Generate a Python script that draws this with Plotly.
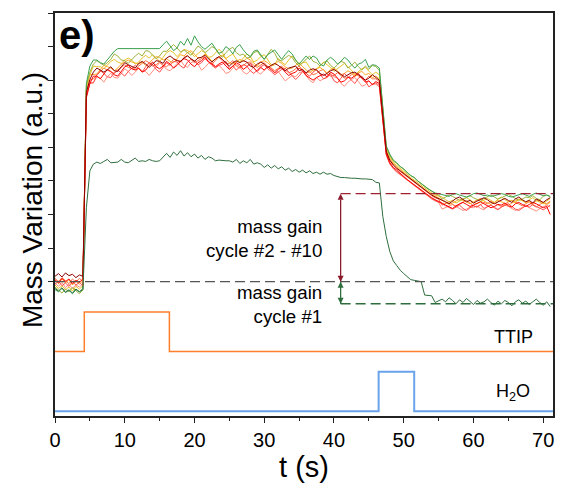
import plotly.graph_objects as go

# time grid (s), 0.5 s sampling
t = [0.5 * i for i in range(143)]

# ---- cycles #2 - #10 (mass variation, a.u.) ----
cycle2 = [  # green
    -0.12, -0.15, -0.10, -0.16, -0.13, -0.18, -0.12, -0.15, -0.10,
    2.95, 3.21, 3.30, 3.30, 3.26, 3.24, 3.30, 3.37, 3.43, 3.47,
    3.47, 3.47, 3.47, 3.47, 3.47, 3.47, 3.47, 3.47, 3.47, 3.47,
    3.47, 3.47, 3.53, 3.58, 3.51, 3.44, 3.48, 3.58, 3.52, 3.62,
    3.52, 3.66, 3.57, 3.50, 3.46, 3.51, 3.55, 3.47, 3.40, 3.42,
    3.50, 3.46, 3.39, 3.49, 3.53, 3.45, 3.39, 3.35, 3.43, 3.45,
    3.38, 3.31, 3.38, 3.41, 3.45, 3.38, 3.31, 3.38, 3.44, 3.39,
    3.30, 3.24, 3.30, 3.36, 3.31, 3.36, 3.33, 3.24, 3.21, 3.30,
    3.34, 3.30, 3.24, 3.28, 3.34, 3.30, 3.23, 3.18, 3.24, 3.26,
    3.31, 3.19, 3.23,
    3.22, 3.18, 2.62, 2.02, 1.90, 1.81, 1.77, 1.71, 1.68, 1.62,
    1.58, 1.55, 1.50, 1.46, 1.41, 1.38, 1.35, 1.32, 1.31,
    1.30, 1.28, 1.27, 1.30, 1.31, 1.29, 1.28, 1.26, 1.28, 1.31,
    1.32, 1.30, 1.28, 1.29, 1.27, 1.28, 1.30, 1.31, 1.30, 1.27,
    1.26, 1.28, 1.30, 1.31, 1.29, 1.27, 1.30, 1.32, 1.30, 1.28,
    1.29, 1.27,
]
cycle3 = [  # olive
    -0.08, -0.13, -0.17, -0.11, -0.15, -0.09, -0.14, -0.18, -0.12,
    2.93, 3.12, 3.24, 3.29, 3.25, 3.22, 3.26, 3.31, 3.39, 3.36,
    3.30, 3.29, 3.25, 3.31, 3.36, 3.40, 3.36, 3.44, 3.43, 3.37,
    3.32, 3.36, 3.43, 3.43, 3.48, 3.53, 3.48, 3.42, 3.45, 3.41,
    3.37, 3.44, 3.51, 3.47, 3.41, 3.45, 3.50, 3.47, 3.39, 3.34,
    3.41, 3.46, 3.49, 3.41, 3.37, 3.39, 3.33, 3.34, 3.41, 3.43,
    3.36, 3.31, 3.38, 3.46, 3.40, 3.30, 3.29, 3.33, 3.37, 3.34,
    3.26, 3.21, 3.26, 3.31, 3.36, 3.28, 3.26, 3.21, 3.26, 3.29,
    3.22, 3.18, 3.23, 3.28, 3.26, 3.18, 3.22, 3.27, 3.20, 3.15,
    3.21, 3.16, 3.22,
    3.20, 3.15, 2.60, 2.00, 1.88, 1.80, 1.76, 1.72, 1.67, 1.63,
    1.58, 1.55, 1.50, 1.46, 1.42, 1.38, 1.35, 1.31, 1.29,
    1.23, 1.26, 1.29, 1.27, 1.24, 1.21, 1.23, 1.26, 1.28, 1.25,
    1.22, 1.20, 1.24, 1.27, 1.29, 1.26, 1.23, 1.25, 1.28, 1.30,
    1.27, 1.24, 1.21, 1.23, 1.26, 1.25, 1.28, 1.24, 1.22, 1.27,
    1.29, 1.26,
]
cycle4 = [  # gold
    -0.05, -0.10, -0.06, -0.12, -0.08, -0.14, -0.07, -0.11, -0.06,
    2.90, 3.08, 3.21, 3.20, 3.20, 3.17, 3.22, 3.28, 3.31, 3.27,
    3.25, 3.30, 3.33, 3.30, 3.24, 3.27, 3.33, 3.37, 3.33, 3.38,
    3.33, 3.28, 3.34, 3.41, 3.44, 3.41, 3.35, 3.41, 3.46, 3.44,
    3.41, 3.35, 3.40, 3.44, 3.41, 3.34, 3.35, 3.41, 3.46, 3.41,
    3.32, 3.36, 3.39, 3.31, 3.27, 3.33, 3.39, 3.35, 3.27, 3.30,
    3.35, 3.38, 3.30, 3.23, 3.24, 3.32, 3.27, 3.23, 3.30, 3.36,
    3.30, 3.23, 3.26, 3.27, 3.19, 3.13, 3.17, 3.21, 3.27, 3.23,
    3.19, 3.13, 3.17, 3.20, 3.25, 3.20, 3.15, 3.08, 3.12, 3.17,
    3.19, 3.14, 3.08,
    3.12, 3.08, 2.55, 1.98, 1.86, 1.78, 1.73, 1.69, 1.64, 1.60,
    1.55, 1.51, 1.47, 1.43, 1.39, 1.36, 1.32, 1.29, 1.27,
    1.26, 1.22, 1.19, 1.21, 1.17, 1.20, 1.23, 1.25, 1.22, 1.18,
    1.16, 1.19, 1.22, 1.24, 1.21, 1.18, 1.23, 1.26, 1.22, 1.19,
    1.21, 1.17, 1.23, 1.20, 1.18, 1.22, 1.25, 1.21, 1.19, 1.16,
    1.20, 1.24,
]
cycle5 = [  # orange
    0.02, -0.03, 0.04, -0.02, 0.03, -0.05, 0.01, -0.04, 0.02,
    2.88, 3.08, 3.08, 3.09, 3.16, 3.22, 3.20, 3.18, 3.14, 3.18,
    3.24, 3.27, 3.30, 3.27, 3.25, 3.24, 3.27, 3.22, 3.25, 3.31,
    3.35, 3.34, 3.30, 3.32, 3.28, 3.26, 3.32, 3.38, 3.36, 3.41,
    3.44, 3.38, 3.33, 3.34, 3.39, 3.34, 3.28, 3.31, 3.35, 3.37,
    3.32, 3.26, 3.24, 3.28, 3.31, 3.28, 3.33, 3.30, 3.25, 3.21,
    3.27, 3.29, 3.26, 3.21, 3.23, 3.28, 3.25, 3.20, 3.17, 3.18,
    3.22, 3.26, 3.20, 3.15, 3.11, 3.15, 3.17, 3.19, 3.15, 3.11,
    3.16, 3.18, 3.14, 3.08, 3.10, 3.14, 3.11, 3.05, 3.11, 3.13,
    3.08, 3.10, 3.04,
    3.06, 3.02, 2.50, 1.95, 1.83, 1.76, 1.71, 1.67, 1.62, 1.58,
    1.53, 1.50, 1.45, 1.41, 1.37, 1.34, 1.30, 1.27, 1.25,
    1.21, 1.18, 1.15, 1.17, 1.20, 1.23, 1.21, 1.18, 1.16, 1.19,
    1.22, 1.24, 1.20, 1.17, 1.15, 1.18, 1.21, 1.19, 1.16, 1.14,
    1.17, 1.20, 1.23, 1.21, 1.18, 1.19, 1.16, 1.20, 1.22, 1.17,
    1.15, 1.18,
]
cycle6 = [  # orange-red
    0.05, 0.00, 0.06, 0.01, -0.03, 0.04, -0.01, 0.05, 0.00,
    2.84, 3.00, 3.02, 3.07, 3.13, 3.18, 3.15, 3.12, 3.10, 3.15,
    3.19, 3.23, 3.19, 3.17, 3.16, 3.21, 3.25, 3.29, 3.26, 3.21,
    3.23, 3.27, 3.22, 3.20, 3.25, 3.31, 3.30, 3.27, 3.34, 3.37,
    3.31, 3.26, 3.29, 3.32, 3.35, 3.28, 3.24, 3.29, 3.34, 3.29,
    3.24, 3.25, 3.29, 3.21, 3.18, 3.22, 3.26, 3.27, 3.22, 3.19,
    3.23, 3.26, 3.20, 3.18, 3.14, 3.17, 3.21, 3.15, 3.11, 3.13,
    3.17, 3.21, 3.15, 3.10, 3.13, 3.08, 3.10, 3.14, 3.16, 3.09,
    3.06, 3.07, 3.11, 3.07, 3.03, 3.04, 3.08, 3.10, 3.06, 3.03,
    3.00, 3.06, 3.02,
    3.02, 2.98, 2.45, 1.93, 1.80, 1.73, 1.68, 1.64, 1.59, 1.55,
    1.51, 1.47, 1.43, 1.39, 1.35, 1.32, 1.28, 1.25, 1.23,
    1.14, 1.17, 1.19, 1.15, 1.12, 1.16, 1.18, 1.21, 1.17, 1.13,
    1.11, 1.15, 1.18, 1.16, 1.20, 1.17, 1.14, 1.12, 1.15, 1.19,
    1.21, 1.18, 1.15, 1.13, 1.16, 1.19, 1.14, 1.11, 1.15, 1.18,
    1.16, 1.20,
]
cycle7 = [  # salmon
    -0.02, -0.07, -0.01, -0.09, -0.04, -0.10, -0.05, -0.08, -0.03,
    2.78, 2.95, 2.96, 3.05, 3.03, 2.97, 3.05, 3.10, 3.04, 3.03,
    3.10, 3.17, 3.13, 3.07, 3.12, 3.18, 3.14, 3.13, 3.07, 3.13,
    3.19, 3.26, 3.22, 3.16, 3.14, 3.19, 3.25, 3.30, 3.22, 3.19,
    3.26, 3.28, 3.24, 3.15, 3.19, 3.25, 3.27, 3.20, 3.22, 3.17,
    3.10, 3.12, 3.18, 3.24, 3.20, 3.12, 3.09, 3.14, 3.19, 3.12,
    3.09, 3.15, 3.21, 3.18, 3.11, 3.13, 3.06, 2.99, 3.03, 3.07,
    3.05, 3.11, 3.13, 3.07, 3.00, 2.96, 3.04, 2.99, 3.02, 3.05,
    3.10, 3.05, 3.03, 2.95, 2.91, 2.97, 3.01, 3.04, 2.98, 2.91,
    2.93, 2.99, 2.94,
    2.94, 2.90, 2.38, 1.88, 1.75, 1.68, 1.63, 1.59, 1.54, 1.50,
    1.46, 1.42, 1.38, 1.34, 1.30, 1.27, 1.23, 1.20, 1.18,
    1.08, 1.10, 1.13, 1.15, 1.12, 1.09, 1.06, 1.08, 1.11, 1.10,
    1.13, 1.09, 1.07, 1.12, 1.14, 1.11, 1.08, 1.11, 1.14, 1.12,
    1.09, 1.06, 1.08, 1.11, 1.13, 1.10, 1.07, 1.05, 1.09, 1.12,
    1.14, 1.11,
]
cycle8 = [  # light red
    -0.04, 0.01, -0.06, -0.02, -0.07, 0.00, -0.05, -0.01, -0.06,
    2.76, 2.96, 2.96, 3.08, 3.14, 3.10, 3.05, 3.04, 3.11, 3.15,
    3.11, 3.06, 3.13, 3.17, 3.22, 3.17, 3.12, 3.20, 3.26, 3.23,
    3.16, 3.12, 3.20, 3.26, 3.22, 3.28, 3.27, 3.21, 3.18, 3.27,
    3.31, 3.29, 3.23, 3.26, 3.32, 3.28, 3.22, 3.18, 3.22, 3.24,
    3.28, 3.17, 3.21, 3.15, 3.20, 3.23, 3.21, 3.14, 3.10, 3.15,
    3.20, 3.23, 3.17, 3.13, 3.08, 3.12, 3.16, 3.18, 3.12, 3.06,
    3.01, 3.06, 3.13, 3.10, 3.06, 3.12, 3.16, 3.09, 3.02, 3.04,
    3.09, 2.99, 2.96, 3.03, 3.10, 3.05, 3.00, 2.95, 3.03, 3.06,
    2.99, 2.90, 2.94,
    2.96, 2.92, 2.40, 1.89, 1.76, 1.69, 1.64, 1.60, 1.55, 1.51,
    1.47, 1.43, 1.39, 1.35, 1.31, 1.28, 1.24, 1.21, 1.19,
    1.16, 1.13, 1.10, 1.08, 1.11, 1.14, 1.09, 1.06, 1.10, 1.13,
    1.11, 1.15, 1.09, 1.12, 1.14, 1.10, 1.07, 1.11, 1.13, 1.16,
    1.12, 1.08, 1.06, 1.10, 1.13, 1.11, 1.15, 1.12, 1.09, 1.07,
    1.10, 1.14,
]
cycle9 = [  # red
    0.03, -0.02, 0.05, 0.00, 0.04, -0.03, 0.02, -0.01, 0.04,
    2.74, 2.95, 3.06, 3.06, 3.02, 3.09, 3.16, 3.13, 3.08, 3.06,
    3.13, 3.20, 3.22, 3.17, 3.15, 3.18, 3.12, 3.15, 3.22, 3.27,
    3.20, 3.17, 3.21, 3.28, 3.24, 3.18, 3.22, 3.28, 3.32, 3.30,
    3.24, 3.20, 3.26, 3.29, 3.34, 3.27, 3.24, 3.20, 3.24, 3.27,
    3.21, 3.16, 3.21, 3.26, 3.23, 3.16, 3.20, 3.25, 3.18, 3.13,
    3.19, 3.15, 3.20, 3.16, 3.11, 3.16, 3.19, 3.12, 3.07, 3.10,
    3.12, 3.18, 3.14, 3.07, 3.04, 3.00, 3.04, 3.07, 3.09, 3.05,
    3.12, 3.09, 3.03, 2.97, 2.99, 3.04, 3.03, 3.07, 3.10, 3.03,
    2.97, 2.99, 2.93,
    2.98, 2.95, 2.42, 1.90, 1.77, 1.70, 1.66, 1.61, 1.57, 1.52,
    1.48, 1.44, 1.40, 1.36, 1.32, 1.29, 1.25, 1.22, 1.20,
    1.17, 1.14, 1.11, 1.09, 1.13, 1.16, 1.18, 1.15, 1.12, 1.14,
    1.17, 1.19, 1.16, 1.13, 1.10, 1.12, 1.15, 1.14, 1.17, 1.13,
    1.11, 1.16, 1.18, 1.15, 1.12, 1.15, 1.18, 1.16, 1.13, 1.10,
    1.12, 1.00,
]
cycle10 = [  # maroon
    0.08, 0.12, 0.07, 0.13, 0.09, 0.11, 0.06, 0.10, 0.08,
    2.82, 3.01, 3.12, 3.18, 3.15, 3.12, 3.15, 3.20, 3.14, 3.13,
    3.20, 3.26, 3.23, 3.20, 3.18, 3.25, 3.28, 3.24, 3.19, 3.24,
    3.29, 3.28, 3.25, 3.33, 3.36, 3.32, 3.29, 3.28, 3.33, 3.36,
    3.32, 3.28, 3.33, 3.34, 3.37, 3.32, 3.27, 3.32, 3.35, 3.31,
    3.26, 3.21, 3.26, 3.29, 3.26, 3.29, 3.27, 3.21, 3.19, 3.24,
    3.27, 3.24, 3.19, 3.22, 3.25, 3.22, 3.18, 3.14, 3.18, 3.19,
    3.21, 3.14, 3.16, 3.11, 3.15, 3.17, 3.15, 3.10, 3.07, 3.10,
    3.14, 3.16, 3.12, 3.08, 3.05, 3.08, 3.11, 3.12, 3.08, 3.03,
    3.00, 3.03, 3.08,
    3.04, 3.00, 2.48, 1.94, 1.81, 1.74, 1.69, 1.65, 1.60, 1.56,
    1.52, 1.48, 1.44, 1.40, 1.36, 1.33, 1.29, 1.26, 1.24,
    1.21, 1.19, 1.16, 1.20, 1.24, 1.26, 1.22, 1.19, 1.21, 1.17,
    1.20, 1.23, 1.25, 1.22, 1.18, 1.16, 1.19, 1.22, 1.24, 1.21,
    1.18, 1.23, 1.26, 1.22, 1.19, 1.21, 1.17, 1.23, 1.20, 1.18,
    1.22, 1.25,
]
# ---- cycle #1 ----
cycle1 = [
    -0.10, -0.14, -0.09, -0.16, -0.12, -0.17, -0.11, -0.15, -0.12,
    1.10, 1.65, 1.75, 1.78, 1.76, 1.79, 1.82, 1.77, 1.77, 1.78,
    1.82, 1.78, 1.77, 1.80, 1.84, 1.79, 1.80, 1.79, 1.82, 1.80,
    1.79, 1.80, 1.86, 1.91, 1.85, 1.93, 1.88, 1.95, 1.87, 1.92,
    1.86, 1.90, 1.84, 1.88, 1.82, 1.86, 1.84, 1.80, 1.81, 1.80,
    1.80, 1.80, 1.78, 1.82, 1.76, 1.80, 1.77, 1.82, 1.75, 1.77,
    1.75, 1.70, 1.74, 1.69, 1.73, 1.68, 1.71, 1.66, 1.69, 1.64,
    1.67, 1.63, 1.66, 1.62, 1.65, 1.61, 1.63, 1.60, 1.63, 1.60,
    1.61, 1.58, 1.56, 1.55, 1.55, 1.54, 1.54, 1.54, 1.53, 1.53,
    1.53, 1.52, 1.52,
    1.48, 1.47, 0.97, 0.67, 0.45, 0.31, 0.24, 0.17, 0.12, 0.07,
    0.03, 0.02, 0.01, 0.00, -0.20, -0.20, -0.21, -0.31, -0.28,
    -0.26, -0.30, -0.24, -0.28, -0.33, -0.27, -0.31, -0.25, -0.29, -0.34,
    -0.28, -0.32, -0.30, -0.26, -0.31, -0.35, -0.29, -0.33, -0.28, -0.31,
    -0.36, -0.30, -0.27, -0.32, -0.29, -0.34, -0.30, -0.26, -0.31, -0.35,
    -0.30, -0.37,
]

# precursor pulses (time, signal level)
ttip_t = [0, 4.2, 4.2, 16.4, 16.4, 71.4]
ttip_v = [-1.04, -1.04, -0.45, -0.45, -1.04, -1.04]
h2o_t = [0, 46.4, 46.4, 51.5, 51.5, 71.4]
h2o_v = [-1.93, -1.93, -1.34, -1.34, -1.93, -1.93]

# reference levels
zero_level = 0.0
gain_2_10 = 1.31
gain_1 = -0.33
arrow_t = 40.95

x_ticks = [0, 10, 20, 30, 40, 50, 60, 70]
y_ticks = [0, 0.5, 1, 1.5, 2, 2.5, 3, 3.5, 4]

for arr in (cycle1, cycle2, cycle3, cycle4, cycle5, cycle6, cycle7, cycle8, cycle9, cycle10):
    assert len(arr) == len(t), len(arr)

FONT = "Arial, Liberation Sans, sans-serif"

fig = go.Figure()

series = [
    (cycle7, "#ff8f80"),
    (cycle6, "#ff7043"),
    (cycle5, "#ffa726"),
    (cycle4, "#e6c229"),
    (cycle3, "#9cb23a"),
    (cycle2, "#3aa14f"),
    (cycle8, "#ff4d4d"),
    (cycle9, "#ff0000"),
    (cycle10, "#8b0000"),
]
for vals, col in series:
    fig.add_trace(go.Scatter(x=t, y=vals, mode="lines",
                             line=dict(color=col, width=1), showlegend=False))

fig.add_trace(go.Scatter(x=t, y=cycle1, mode="lines",
                         line=dict(color="#2e6e3e", width=1), showlegend=False))
fig.add_trace(go.Scatter(x=ttip_t, y=ttip_v, mode="lines",
                         line=dict(color="#ff7f2a", width=1.5), showlegend=False))
fig.add_trace(go.Scatter(x=h2o_t, y=h2o_v, mode="lines",
                         line=dict(color="#6aa3ea", width=2), showlegend=False))

# dashed reference lines
fig.add_shape(type="line", x0=0, x1=71.4, y0=zero_level, y1=zero_level,
              xref="x", yref="y", line=dict(color="#555555", width=1.2, dash="10px,5px"))
fig.add_shape(type="line", x0=arrow_t, x1=71.4, y0=gain_2_10, y1=gain_2_10,
              xref="x", yref="y", line=dict(color="#9e2230", width=1.2, dash="10px,5px"))
fig.add_shape(type="line", x0=arrow_t, x1=71.4, y0=gain_1, y1=gain_1,
              xref="x", yref="y", line=dict(color="#2e6e3e", width=1.5, dash="10px,5px"))

# double-headed arrows (arrow symbols have their tip on the data point)
fig.add_trace(go.Scatter(x=[arrow_t, arrow_t], y=[zero_level, gain_2_10], mode="lines+markers",
                         line=dict(color="#8b1a2b", width=1.3),
                         marker=dict(symbol=["arrow-down", "arrow-up"], size=6, color="#8b1a2b"),
                         showlegend=False, hoverinfo="skip"))
fig.add_trace(go.Scatter(x=[arrow_t, arrow_t], y=[zero_level, gain_1], mode="lines+markers",
                         line=dict(color="#2e6e3e", width=1.3),
                         marker=dict(symbol=["arrow-up", "arrow-down"], size=6, color="#2e6e3e"),
                         showlegend=False, hoverinfo="skip"))

fig.add_annotation(x=38.5, y=0.64, xref="x", yref="y", text="mass gain<br>cycle #2 - #10",
                   showarrow=False, xanchor="right", yanchor="middle", align="right",
                   font=dict(family=FONT, size=18.7, color="black"))
fig.add_annotation(x=38.5, y=-0.34, xref="x", yref="y", text="mass gain<br>cycle #1",
                   showarrow=False, xanchor="right", yanchor="middle", align="right",
                   font=dict(family=FONT, size=18.7, color="black"))
fig.add_annotation(x=65.7, y=-0.83, xref="x", yref="y", text="TTIP",
                   showarrow=False, xanchor="center", yanchor="middle",
                   font=dict(family=FONT, size=18, color="black"))
fig.add_annotation(x=65.7, y=-1.65, xref="x", yref="y", text="H<sub>2</sub>O",
                   showarrow=False, xanchor="center", yanchor="middle",
                   font=dict(family=FONT, size=18, color="black"))
fig.add_annotation(x=0.005, y=1.005, xref="paper", yref="paper", text="<b>e)</b>",
                   showarrow=False, xanchor="left", yanchor="top",
                   font=dict(family=FONT, size=40, color="black"))
# y-axis title (placed slightly above the plot-area centre, as in the original)
fig.add_annotation(x=-0.044, y=0.536, xref="paper", yref="paper", text="Mass Variation (a.u.)",
                   showarrow=False, xanchor="center", yanchor="middle", textangle=-90,
                   font=dict(family=FONT, size=28, color="black"))

# page body has an 8 px margin, so the figure is 8 px smaller than the window
fig.update_layout(
    width=558, height=476,
    margin=dict(l=47, r=13, t=5, b=68),
    paper_bgcolor="white", plot_bgcolor="white",
    showlegend=False,
    font=dict(family=FONT, color="black"),
)
fig.update_xaxes(range=[0, 71.4], tickvals=x_ticks, ticks="outside", ticklen=5, tickwidth=1.2,
                 tickcolor="#222", showline=True, linecolor="#222", linewidth=1.5, mirror=True,
                 showgrid=False, zeroline=False, tickfont=dict(family=FONT, size=20, color="black"),
                 automargin=False,
                 title=dict(text="t (s)", font=dict(family=FONT, size=29, color="black"), standoff=0),
                 minor=dict(tickvals=[5, 15, 25, 35, 45, 55, 65], ticks="outside", ticklen=3,
                            tickwidth=1.2, tickcolor="#222", showgrid=False))
fig.update_yaxes(range=[-2, 4], tickvals=y_ticks, ticks="outside", ticklen=5, tickwidth=1.2,
                 tickcolor="#222", showticklabels=False, showline=True, linecolor="#222",
                 linewidth=1.5, mirror=True, showgrid=False, zeroline=False, automargin=False)

fig.write_html("out.html")
